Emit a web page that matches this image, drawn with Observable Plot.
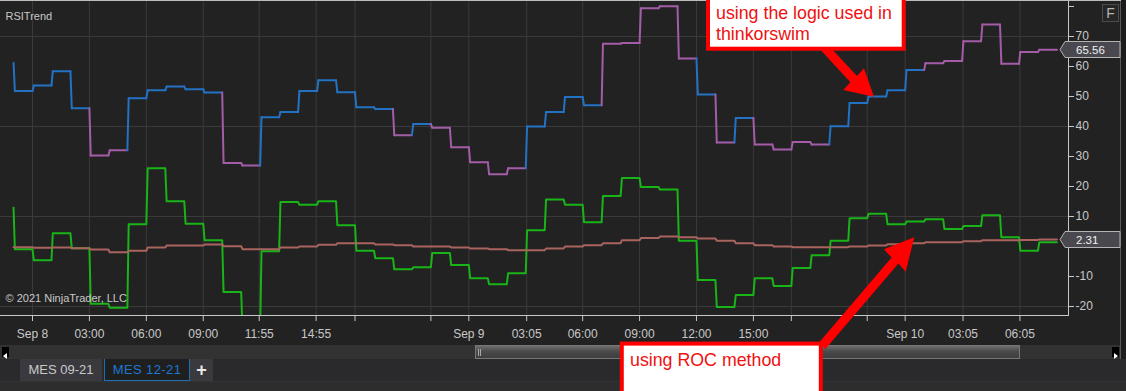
<!DOCTYPE html>
<html><head><meta charset="utf-8">
<script src="https://cdn.jsdelivr.net/npm/d3@7"></script>
<script src="https://cdn.jsdelivr.net/npm/@observablehq/plot@0.6"></script>
<style>
html,body{margin:0;padding:0;background:#2d2d2d;width:1126px;height:391px;overflow:hidden;font-family:"Liberation Sans",Arial,sans-serif;}
#wrap{position:relative;width:1126px;height:391px;}
#chart{position:absolute;left:0;top:0;}
#scroll{position:absolute;left:0;top:345px;width:1120px;height:14px;background:#323232;}
#thumb{position:absolute;left:475px;top:0px;width:543px;height:12px;background:linear-gradient(#6e6e6e,#4a4a4a 45%,#3e3e3e);border:1px solid #777;}
.grip{position:absolute;top:3px;width:1px;height:7px;background:#a8a8a8;}
.arr{position:absolute;top:2px;width:7px;height:10px;background:#000;}
#tabs{position:absolute;left:0;top:359px;width:1126px;height:22px;background:#2a2a2c;}
.tab{position:absolute;top:0;height:22px;line-height:22px;font-size:13px;text-align:center;box-sizing:border-box;}
#overlay{position:absolute;left:0;top:0;pointer-events:none;}
</style></head>
<body><div id="wrap">
<div id="chart"></div>
<div id="scroll">
  <div class="arr" style="left:2px"><svg width="7" height="10"><polygon points="5,2 1,5 5,8" fill="#fff"/></svg></div>
  <div id="thumb"><div class="grip" style="left:2px"></div><div class="grip" style="left:4px"></div></div>
  <div class="arr" style="left:1112px"><svg width="7" height="10"><polygon points="2,2 6,5 2,8" fill="#fff"/></svg></div>
</div>
<div id="tabs">
  <div class="tab" style="left:20px;width:82px;background:#3a3a3e;color:#c8c8c8;">MES 09-21</div>
  <div class="tab" style="left:104px;width:86px;background:#1f1f1f;color:#1e78d2;border:1px solid #1e6eb4;border-top:none;letter-spacing:0.4px;">MES 12-21</div>
  <div class="tab" style="left:190px;width:23px;background:#3a3a3e;color:#e8e8e8;font-size:18px;font-weight:bold;">+</div>
</div>
</div>
<script>
// ---- data ----
const hours = [-1,0,1,2,3,4,5,6,7,8,9,10,11,12,13,14,15,16,17,18,19,20,21,22,23,24,25,26,27,28,29,30,31,32,33,34,35,36,37,38,39,40,41,42,43,44,45,46,47,48,49,50,51,52,53];
const rsiStart = 61.2;
const rsiValues = [51.8,53.7,58.4,46.1,30.3,32.1,49.4,52.1,53.3,52.4,51.3,27.8,27.0,43.1,44.8,51.8,55.4,51.4,46.4,45.8,37.1,40.8,39.6,33.1,28.1,24.1,26.1,40.0,44.8,49.8,47.1,67.6,67.8,79.4,80.1,62.7,50.7,34.7,42.8,34.0,32.3,34.8,34.0,40.1,47.8,50.0,52.1,58.8,61.1,61.8,68.4,74.0,60.9,64.8,65.56];
const rsiTrend = ["bull","bull","bull","bull","bear","bear","bull","bull","bull","bull","bull","bear","bear","bull","bull","bull","bull","bull","bull","bull","bear","bull","bear","bear","bear","bear","bear","bull","bull","bull","bull","bear","bear","bear","bear","bear","bull","bear","bull","bear","bear","bear","bear","bull","bull","bull","bull","bull","bear","bear","bear","bear","bear","bear","bear"];
const rocStart = 12.9;
const rocValues = [-0.9,-4.6,4.4,-0.6,-19.1,-20.4,7.4,26.1,15.1,7.6,2.1,-15.2,-28,-1.6,14.8,13.9,15.1,7.1,-1.4,-3.9,-7.6,-6.9,-2.2,-6.2,-10.6,-12.6,-8.9,5.4,15.7,13.9,8.1,16.8,22.8,19.8,19.0,1.9,-11.2,-20.2,-16.2,-10.6,-13.2,-7.2,-2.9,1.9,9.4,10.9,7.4,8.3,9.1,5.8,6.8,10.4,3.1,-1.4,1.4];
const rocAvgValues = [-0.22,-0.44,-0.33,-0.56,-1.0,-1.9,-1.44,-0.33,0.33,0.33,0.67,0.11,-0.89,-0.89,-0.33,0.0,0.56,1.1,1.1,0.7,0.44,0.0,0.0,-0.33,-0.67,-0.89,-1.22,-1.22,-0.67,0.0,0.44,1.1,2.1,2.8,3.3,3.1,2.7,1.9,1.1,0.44,0.0,-0.22,-0.22,-0.22,0.0,0.33,0.78,1.1,1.44,1.44,1.78,2.1,2.1,2.2,2.31];
const xTickVals = [0,3,6,9,11.95,14.95,17,21,23,26.05,29,32,35,38,40,44,46,49.05,52.05];
const xTickLabels = ["Sep 8","03:00","06:00","09:00","11:55","14:55","","","Sep 9","03:05","06:00","09:00","12:00","15:00","","","Sep 10","03:05","06:05"];
const yTickVals = [-20,-10,0,10,20,30,40,50,60,70,80];
// "0" and "80" are hidden behind the price marker / chart edge in the original
const yTickLabels = ["-20","-10","","10","20","30","40","50","60","70",""];
const yGridVals = [-20,10,40,70];

// ---- derived tables ----
const TR = 0.07;
function stepPoints(start, vals){
  const pts=[{u:hours[0], v:start}];
  hours.forEach((h,i)=>{pts.push({u:h+TR, v:vals[i]},{u:h+1, v:vals[i]});});
  return pts;
}
const rocPts = stepPoints(rocStart, rocValues);
const rocAvgPts = stepPoints(rocAvgValues[0], rocAvgValues);
const rsiSegs = [];
let prev = rsiStart;
hours.forEach((h,i)=>{
  const v = rsiValues[i], t = rsiTrend[i];
  rsiSegs.push({x1:h, y1:prev, x2:h+TR, y2:v, t}, {x1:h+TR, y1:v, x2:h+1, y2:v, t});
  prev = v;
});
const xLab = new Map(xTickVals.map((v,i)=>[v,xTickLabels[i]]));
const yLab = new Map(yTickVals.map((v,i)=>[v,yTickLabels[i]]));

const plot = Plot.plot({
  width: 1126, height: 345,
  marginLeft: 0, marginRight: 58, marginTop: 1, marginBottom: 30,
  style: {background: "#222222", color: "#c8c8c8", fontSize: "12px", fontFamily: "'Liberation Sans', Arial, sans-serif"},
  x: {domain: [-1.687, 54.61], ticks: xTickVals, tickFormat: d => xLab.get(d), tickSize: 6, tickPadding: 7.5, line: true, label: null},
  y: {domain: [-23, 81.67], axis: "right", ticks: yTickVals, tickFormat: d => yLab.get(d), tickSize: 5, tickPadding: 2, line: true, label: null},
  color: {domain: ["bull","bear"], range: ["#2372c4","#a45ca8"]},
  marks: [
    Plot.ruleX(xTickVals, {stroke: "#3a3a3a", strokeWidth: 1}),
    Plot.ruleY(yGridVals, {stroke: "#3a3a3a", strokeWidth: 1}),
    Plot.line(rocPts, {x: "u", y: "v", stroke: "#18b418", strokeWidth: 2, clip: true}),
    Plot.line(rocAvgPts, {x: "u", y: "v", stroke: "#aa645f", strokeWidth: 2}),
    Plot.link(rsiSegs, {x1: "x1", y1: "y1", x2: "x2", y2: "y2", stroke: "t", strokeWidth: 2, strokeLinecap: "round"}),
    Plot.text(["RSITrend"], {frameAnchor: "top-left", dx: 5, dy: 11, textAnchor: "start", fill: "#c8c8c8", fontSize: 11}),
    Plot.text(["© 2021 NinjaTrader, LLC"], {frameAnchor: "bottom-left", dx: 5, dy: -14, textAnchor: "start", fill: "#c8c8c8", fontSize: 11})
  ]
});
document.getElementById("chart").appendChild(plot);

// ---- overlay (price markers, annotations) ----
const ys = plot.scale("y");
const yS = d3.scaleLinear(ys.domain, ys.range);
const lastRsi = rsiValues[rsiValues.length-1];
const lastAvg = rocAvgValues[rocAvgValues.length-1];
const ov = d3.select("#wrap").append("svg").attr("id","overlay").attr("width",1126).attr("height",391);
// borders
ov.append("rect").attr("x",1120).attr("y",0).attr("width",6).attr("height",359).attr("fill","#1c1c1c");
ov.append("line").attr("x1",1120.5).attr("x2",1120.5).attr("y1",0).attr("y2",359).attr("stroke","#5a5a5a");
ov.append("line").attr("x1",0).attr("x2",1121).attr("y1",0.5).attr("y2",0.5).attr("stroke","#bdbdbd");
ov.append("line").attr("x1",0).attr("x2",1126).attr("y1",381.5).attr("y2",381.5).attr("stroke","#333336");
// F button
ov.append("rect").attr("x",1102.5).attr("y",4.5).attr("width",16).attr("height",17).attr("fill","#262626").attr("stroke","#4c4c4c");
ov.append("text").attr("x",1110.5).attr("y",18).attr("text-anchor","middle").attr("fill","#b4b4b4").attr("font-size",14).attr("font-family","Liberation Sans, Arial").text("F");
// value markers
function marker(v){
  const y = Math.round(yS(v)) + 0.5;
  ov.append("polygon").attr("points",`1060,${y} 1065,${y-8} 1120,${y-8} 1120,${y+8} 1065,${y+8}`).attr("fill","#48484e").attr("stroke","#b4b4b4").attr("stroke-width",1);
  ov.append("text").attr("x",1076).attr("y",y+4.5).attr("fill","#f0f0f0").attr("font-size",11.5).attr("font-family","Liberation Sans, Arial").text(v.toFixed(2));
}
marker(lastRsi);
marker(lastAvg);
// arrows
ov.append("polygon").attr("points","819.7,49.1 850.4,82.3 843.3,90 874,96.7 864,68.3 857,76.1 826.3,42.9").attr("fill","#ff0000");
ov.append("polygon").attr("points","818.6,343.1 891.6,257.6 884,249.3 914.3,237.3 905.7,271.7 898.4,263.4 825.4,348.9").attr("fill","#ff0000");
// boxes
ov.append("rect").attr("x",708).attr("y",-5).attr("width",195.7).attr("height",53.7).attr("fill","#fff").attr("stroke","#ff0000").attr("stroke-width",4);
ov.append("text").attr("x",716).attr("y",18.5).attr("fill","#f01010").attr("font-size",17.8).attr("font-family","Liberation Sans, Arial").text("using the logic used in");
ov.append("text").attr("x",716).attr("y",39.5).attr("fill","#f01010").attr("font-size",17.8).attr("font-family","Liberation Sans, Arial").text("thinkorswim");
ov.append("rect").attr("x",621.8).attr("y",343.6).attr("width",199).attr("height",60).attr("fill","#fff").attr("stroke","#ff0000").attr("stroke-width",4);
ov.append("text").attr("x",630).attr("y",366).attr("fill","#f01010").attr("font-size",17.8).attr("font-family","Liberation Sans, Arial").text("using ROC method");
</script>
</body></html>
